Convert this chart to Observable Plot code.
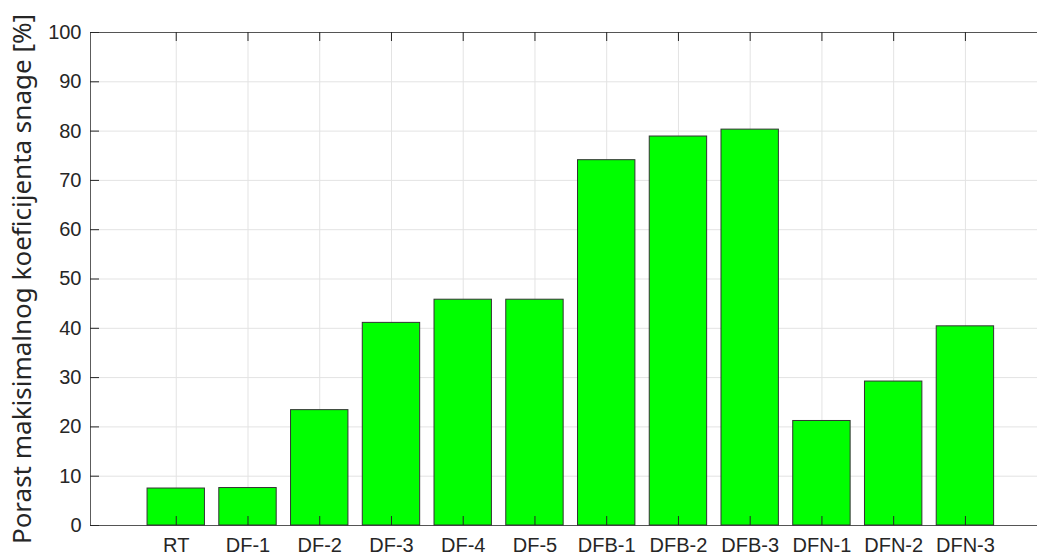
<!DOCTYPE html>
<html>
<head>
<meta charset="utf-8">
<script src="https://cdn.jsdelivr.net/npm/d3@7"></script>
<script src="https://cdn.jsdelivr.net/npm/@observablehq/plot@0.6"></script>
<style>
  html, body { margin: 0; padding: 0; background: #fff; }
  #chart svg { display: block; }
</style>
</head>
<body>
<div id="chart"></div>
<script>
const categories = ["RT", "DF-1", "DF-2", "DF-3", "DF-4", "DF-5", "DFB-1", "DFB-2", "DFB-3", "DFN-1", "DFN-2", "DFN-3"];
const values = [7.5, 7.6, 23.4, 41.1, 45.8, 45.8, 74.1, 78.9, 80.3, 21.2, 29.2, 40.4];
const yTicks = [0, 10, 20, 30, 40, 50, 60, 70, 80, 90, 100];
const yLabel = "Porast makisimalnog koeficijenta snage [%]";

const data = categories.map((c, i) => ({category: c, value: values[i]}));

const W = 1037, H = 555, mL = 90, mR = 0, mT = 32, mB = 30;
const plotH = H - mT - mB, plotW = W - mL - mR;
const tickLen = 9;
const axisColor = "#262626";

const chart = Plot.plot({
  width: W,
  height: H,
  marginLeft: mL,
  marginRight: mR,
  marginTop: mT,
  marginBottom: mB,
  style: {fontFamily: "Liberation Sans, Arial, sans-serif", background: "#fff", overflow: "visible"},
  x: {type: "band", domain: categories, paddingInner: 0.2, paddingOuter: 0.7, align: 0.568, round: false, axis: null},
  y: {domain: [0, 100], axis: null},
  marks: [
    Plot.ruleY(yTicks, {y: d => d, stroke: "#e3e3e3", strokeWidth: 1}),
    Plot.ruleX(categories, {x: d => d, stroke: "#e3e3e3", strokeWidth: 1}),
    Plot.barY(data, {x: "category", y: "value", fill: "#00ff00", stroke: "#333333", strokeWidth: 1}),
    Plot.frame({stroke: axisColor, strokeOpacity: 0.75, strokeWidth: 1}),
    Plot.tickX(categories, {x: d => d, insetTop: plotH - tickLen, stroke: axisColor, strokeWidth: 1}),
    Plot.tickX(categories, {x: d => d, insetBottom: plotH - tickLen, stroke: axisColor, strokeWidth: 1}),
    Plot.tickY(yTicks, {y: d => d, insetRight: plotW - tickLen, stroke: axisColor, strokeWidth: 1}),
    Plot.axisY(yTicks, {tickSize: 0, tickPadding: 9, fontSize: 20, fill: axisColor, label: null}),
    Plot.axisX({tickSize: 0, tickPadding: 12, fontSize: 20, fill: axisColor, label: null}),
    Plot.text([yLabel], {text: d => d, frameAnchor: "left", textAnchor: "middle", lineAnchor: "middle", rotate: -90, dx: -68, fontFamily: "Noto Sans", fontSize: 26, fill: axisColor})
  ]
});

document.getElementById("chart").appendChild(chart);
</script>
</body>
</html>
